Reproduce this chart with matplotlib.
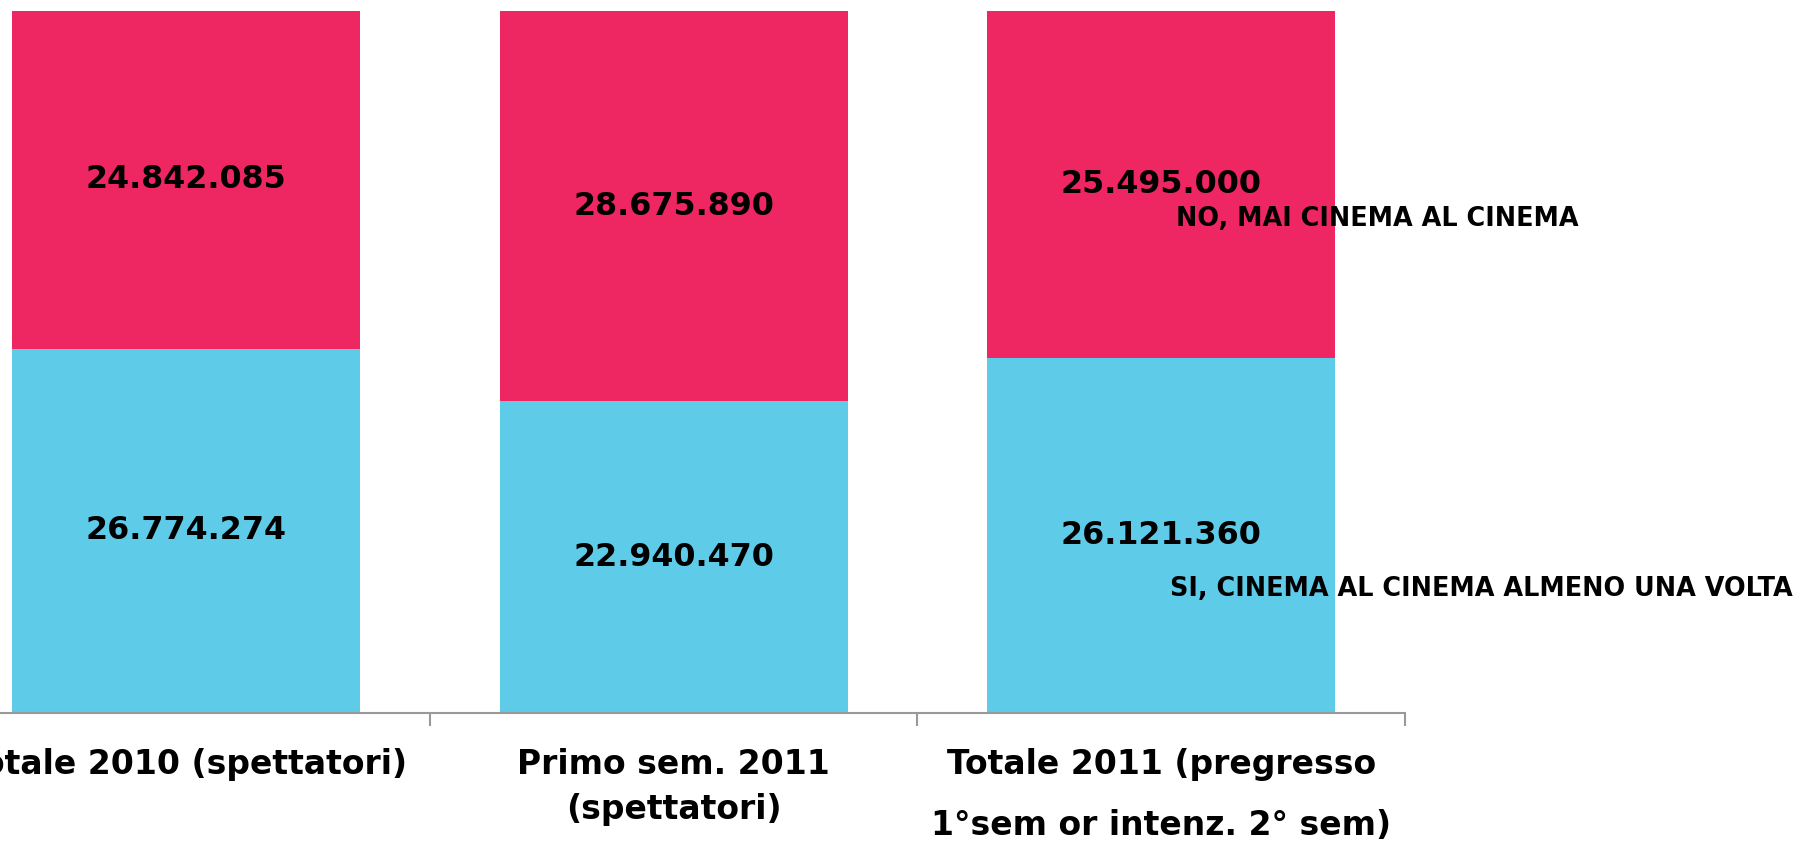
import matplotlib
matplotlib.use("Agg")
import matplotlib.pyplot as plt
import numpy as np

categories = ["Totale 2010 (spettatori)",
              "Primo sem. 2011\n(spettatori)",
              "Totale 2011 (pregresso\n1°sem or intenz. 2° sem)"]
si_values = [26774274, 22940470, 26121360]
no_values = [24842085, 28675890, 25495000]
si_labels = ["26.774.274", "22.940.470", "26.121.360"]
no_labels = ["24.842.085", "28.675.890", "25.495.000"]
series_names = ["SI, CINEMA AL CINEMA ALMENO UNA VOLTA", "NO, MAI CINEMA AL CINEMA"]

blue = "#5ecbe8"
pink = "#ee2662"

fig = plt.figure(figsize=(18.08, 8.42), dpi=100)
# axes runs off the left edge like in the original slide
ax = fig.add_axes([-57.75 / 1808, (842 - 713) / 842, (1405 + 57.75) / 1808, (713 - 11) / 842])

x = np.arange(len(categories))
si = np.array(si_values)
no = np.array(no_values)
totals = si + no
w = 0.714

ax.bar(x, si, width=w, color=blue)
ax.bar(x, no, width=w, bottom=si, color=pink)

for i in range(len(x)):
    ax.text(x[i], si[i] / 2, si_labels[i], ha="center", va="center",
            fontsize=22.9, fontweight="bold")
    ax.text(x[i], si[i] + no[i] / 2, no_labels[i], ha="center", va="center",
            fontsize=22.9, fontweight="bold")

# series names sitting next to the last bar
last = len(x) - 1
ax.text(x[last] + 0.018, totals[last] * 0.177, series_names[0], ha="left", va="center",
        fontsize=18.4, fontweight="semibold")
ax.text(x[last] + 0.03, totals[last] * 0.704, series_names[1], ha="left", va="center",
        fontsize=18.4, fontweight="semibold")

ax.set_xlim(-0.5, len(x) - 0.5)
ax.set_ylim(0, totals.max())
for s in ["top", "right", "left"]:
    ax.spines[s].set_visible(False)
ax.spines["bottom"].set_color("#999999")
ax.spines["bottom"].set_linewidth(1.5)
ax.set_yticks([])

ax.set_xticks(x)
ax.set_xticklabels(categories, fontsize=23.8, fontweight="bold")
ax.tick_params(axis="x", which="major", length=0, pad=25)
ax.set_xticks(np.arange(len(x)) + 0.5, minor=True)
ax.tick_params(axis="x", which="minor", length=9, width=1.5, color="#999999")
labels = ax.get_xticklabels()
labels[1].set_linespacing(1.46)
labels[2].set_linespacing(2.1)

fig.savefig("out.png", dpi=100)
